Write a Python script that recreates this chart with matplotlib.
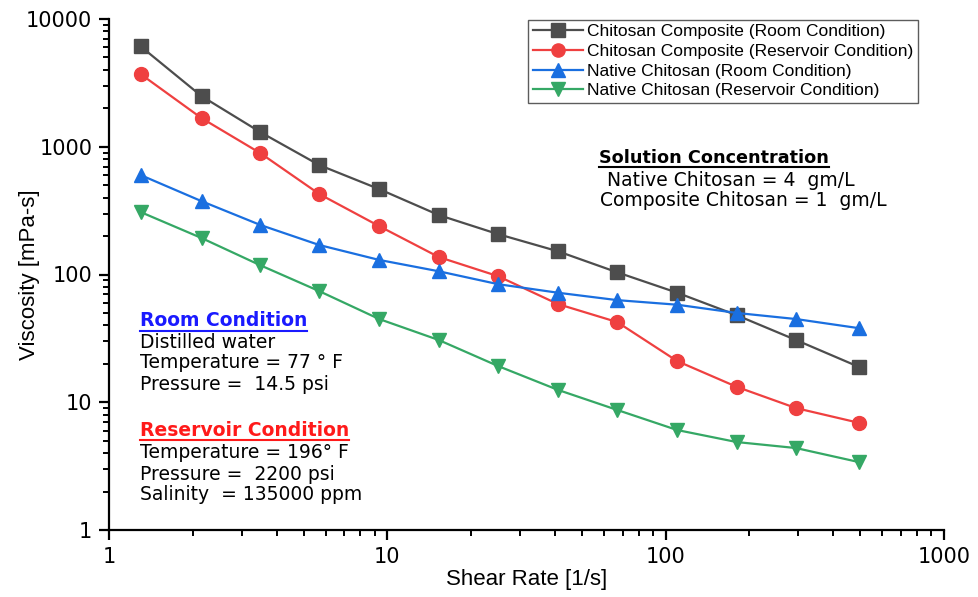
import matplotlib
matplotlib.use('Agg')
import matplotlib.pyplot as plt
from matplotlib.lines import Line2D
import numpy as np

plt.rcParams['font.family'] = ['Liberation Sans', 'DejaVu Sans']

# shear rate [1/s]
shear_rate = [1.3, 2.15, 3.5, 5.7, 9.35, 15.3, 25, 41, 67, 110, 180, 294, 495]

# viscosity [mPa-s]
comp_room = [6100, 2490, 1300, 718, 466, 292, 207, 152, 104, 72, 48, 30.7, 18.9]
comp_res = [3700, 1675, 890, 426, 239, 137, 97, 58.7, 42.4, 21, 13.2, 9.0, 6.9]
native_room = [600, 375, 244, 170, 130, 106, 84, 72, 63, 58, 50, 44.8, 38]
native_res = [308, 193, 118, 74, 44.8, 30.7, 19.2, 12.5, 8.7, 6.06, 4.88, 4.38, 3.4]

labels = ['Chitosan Composite (Room Condition)',
          'Chitosan Composite (Reservoir Condition)',
          'Native Chitosan (Room Condition)',
          'Native Chitosan (Reservoir Condition)']
colors = ['#4d4d4d', '#ef4040', '#1a6fe0', '#35a865']
markers = ['s', 'o', '^', 'v']

W, H = 979, 597
fig = plt.figure(figsize=(W / 100, H / 100), dpi=100)
ax = fig.add_axes([109 / W, 1 - 530 / H, (944 - 109) / W, (530 - 19) / H])

for y, lab, c, m in zip([comp_room, comp_res, native_room, native_res], labels, colors, markers):
    ax.plot(shear_rate, y, color=c, marker=m, markersize=10, linewidth=1.6, label=lab)

ax.set_xscale('log')
ax.set_yscale('log')
ax.set_xlim(1, 1000)
ax.set_ylim(1, 10000)
ax.set_xticks([1, 10, 100, 1000])
ax.set_xticklabels(['1', '10', '100', '1000'])
ax.set_yticks([1, 10, 100, 1000, 10000])
ax.set_yticklabels(['1', '10', '100', '1000', '10000'])

for s in ['top', 'right']:
    ax.spines[s].set_visible(False)
for s in ['left', 'bottom']:
    ax.spines[s].set_linewidth(1.6)
ax.tick_params(which='major', direction='out', length=7, width=1.6, pad=5)
ax.tick_params(which='minor', direction='out', length=4, width=1.4)
for t in ax.get_xticklabels() + ax.get_yticklabels():
    t.set_fontfamily('DejaVu Sans')
    t.set_fontsize(15)

ax.set_xlabel('Shear Rate [1/s]', fontsize=16, labelpad=2)
ax.set_ylabel('Viscosity [mPa-s]', fontsize=16)
ax.yaxis.set_label_coords(-0.083, 0.5)

leg = ax.legend(loc='upper right', bbox_to_anchor=(918 / W, 1 - 20 / H),
                bbox_transform=fig.transFigure, borderaxespad=0, fontsize=12.5,
                fancybox=False, frameon=True, handlelength=2.9, labelspacing=0.26,
                borderpad=0.25, handletextpad=0.25, markerscale=0.95)
leg.get_frame().set_edgecolor('#333333')
leg.get_frame().set_linewidth(1.0)

def ftext(x, y, s, size=13.5, **kw):
    return fig.text(x / W, 1 - y / H, s, va='center', ha='left', fontsize=size,
                    family='DejaVu Sans', **kw)

heads = []
heads.append(ftext(599, 158, 'Solution Concentration', size=12.7, color='black', fontweight='bold'))
ftext(601, 180, ' Native Chitosan = 4  gm/L')
ftext(600, 201, 'Composite Chitosan = 1  gm/L')

heads.append(ftext(140, 321, 'Room Condition', color='#1a1aff', fontweight='bold'))
ftext(140, 342, 'Distilled water')
ftext(140, 363, 'Temperature = 77 \u00b0 F')
ftext(140, 384, 'Pressure =  14.5 psi')

heads.append(ftext(140, 430, 'Reservoir Condition', color='#ff1a1a', fontweight='bold'))
ftext(140, 452, 'Temperature = 196\u00b0 F')
ftext(140, 474, 'Pressure =  2200 psi')
ftext(140, 495, 'Salinity  = 135000 ppm')

# underline the headings
fig.canvas.draw()
r = fig.canvas.get_renderer()
for t in heads:
    bb = t.get_window_extent(renderer=r)
    yl = bb.y0
    fig.add_artist(Line2D([bb.x0 / W, bb.x1 / W], [yl / H, yl / H],
                          color=t.get_color(), linewidth=1.5))

plt.savefig('out.png', dpi=100)
